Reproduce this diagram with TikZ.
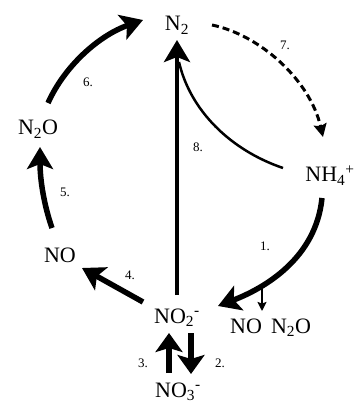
\documentclass[tikz,border=0pt]{standalone}
\usepackage{fontspec}
\setmainfont{Liberation Serif}
\usetikzlibrary{arrows.meta}
\tikzset{
  chem/.style={font=\fontsize{22}{24}\selectfont, inner sep=0pt, anchor=base},
  num/.style={font=\fontsize{13}{14}\selectfont, inner sep=0pt},
  bigarrow/.style={line width=5.5pt, -{Stealth[length=22pt,width=26pt,inset=5pt]}},
  midarrow/.style={line width=4.5pt, -{Stealth[length=22pt,width=26pt,inset=5pt]}},
  dasharrow/.style={line width=3pt, dash pattern=on 7pt off 4pt, -{Stealth[length=13pt,width=13pt,inset=2pt]}},
  thinline/.style={line width=2.5pt},
  smallarrow/.style={line width=2.2pt, -{Stealth[length=9pt,width=9pt,inset=1.5pt]}},
  updown/.style={line width=6.5pt, -{Stealth[length=19pt,width=27pt,inset=4pt]}}
}
\begin{document}
\begin{tikzpicture}[x=1pt,y=-1pt]
\useasboundingbox (0,0) rectangle (356,403);
% chemical species
\node[chem] (n2) at (177,31) {N\textsubscript{2}};
\node[chem] (n2o) at (38,135) {N\textsubscript{2}O};
\node[chem] (nh4) at (330,182) {NH\textsubscript{4}\textsuperscript{+}};
\node[chem] (no) at (60,262) {NO};
\node[chem] (no2) at (177,323) {NO\textsubscript{2}\textsuperscript{-}};
\node[chem] (no3) at (178,397) {NO\textsubscript{3}\textsuperscript{-}};
\node[chem] (noside) at (246,333) {NO};
\node[chem] (n2oside) at (291,333) {N\textsubscript{2}O};
% step labels
\node[num] (l1) at (265,246) {1.};
\node[num] (l2) at (220,363) {2.};
\node[num] (l3) at (143,363) {3.};
\node[num] (l4) at (130,275) {4.};
\node[num] (l5) at (65,192) {5.};
\node[num] (l6) at (88,82) {6.};
\node[num] (l7) at (285,45) {7.};
\node[num] (l8) at (198,147) {8.};
% connector end points
\coordinate (a6s) at (48,103);
\coordinate (a6e) at (143,20);
\coordinate (a5s) at (52,228);
\coordinate (a5e) at (40,147);
\coordinate (a4s) at (143,302);
\coordinate (a4e) at (82,268);
\coordinate (a8s) at (177,295);
\coordinate (a8e) at (177,40);
\coordinate (c8s) at (283,168);
\coordinate (c8e) at (179,62);
\coordinate (a7s) at (212,25);
\coordinate (a7e) at (323,137);
\coordinate (a1s) at (322,198);
\coordinate (a1e) at (218,306);
\coordinate (b1s) at (262,287);
\coordinate (b1e) at (262,311);
\coordinate (a3s) at (169,373);
\coordinate (a3e) at (169,333);
\coordinate (a2s) at (191,333);
\coordinate (a2e) at (191,374);
% arrows
\draw[bigarrow] (a6s) .. controls (65,65) and (100,35) .. (a6e);
\draw[bigarrow] (a5s) .. controls (44,205) and (40,180) .. (a5e);
\draw[bigarrow] (a4s) -- (a4e);
\draw[midarrow] (a8s) -- (a8e);
\draw[thinline] (c8s) .. controls (230,150) and (190,110) .. (c8e);
\draw[dasharrow] (a7s) .. controls (260,35) and (310,80) .. (a7e);
\draw[bigarrow] (a1s) .. controls (316,258) and (265,288) .. (a1e);
\draw[smallarrow] (b1s) -- (b1e);
\draw[updown] (a3s) -- (a3e);
\draw[updown] (a2s) -- (a2e);
\end{tikzpicture}
\end{document}
